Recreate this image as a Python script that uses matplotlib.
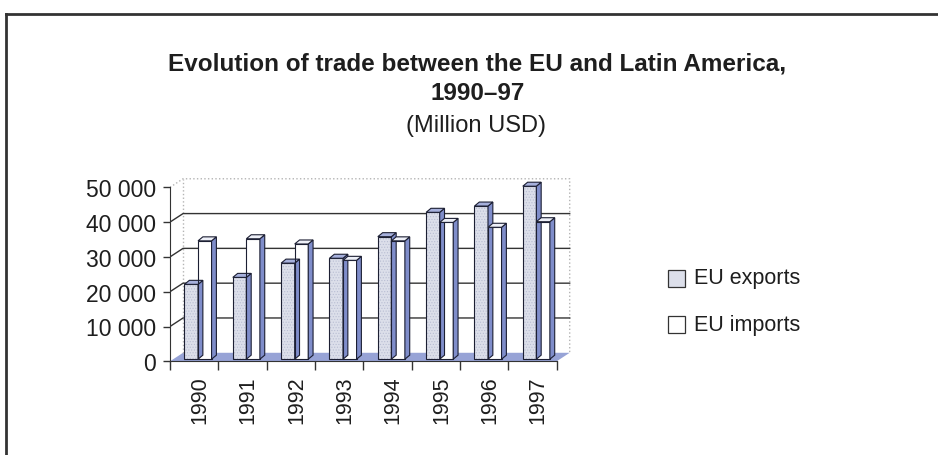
"""EU - Latin America trade, 1990-97, drawn as a pseudo-3D clustered column chart."""

import matplotlib

matplotlib.use("Agg")

import matplotlib.pyplot as plt
from matplotlib.patches import Polygon, Rectangle
from matplotlib.ticker import FixedLocator, FuncFormatter

plt.rcParams["font.family"] = ["Liberation Sans", "DejaVu Sans"]
plt.rcParams["hatch.linewidth"] = 0.5

YEARS = ["1990", "1991", "1992", "1993", "1994", "1995", "1996", "1997"]
EU_EXPORTS = [21500, 23500, 27600, 29000, 35200, 42200, 44000, 49700]
EU_IMPORTS = [34000, 34600, 33100, 28400, 34000, 39300, 37900, 39500]
Y_TICKS = [0, 10000, 20000, 30000, 40000, 50000]
SERIES_NAMES = ["EU exports", "EU imports"]

W, H = 938, 456
TEXT = "#1e1e1e"
EDGE = "#1c1f33"
SIDE = "#7f8dca"
FLOOR = "#97a3d6"
WALL_EDGE = "#b4b4b4"
EXPORT_FACE = "#dcdfea"
STIPPLE = "#b9bed3"

# wall depth and bar depth, in data units
WALL_DX, WALL_DY = 0.27, 2450
BAR_DX, BAR_DY = 0.10, 1150
BAR_W = 0.28
BASE_X, BASE_Y = 0.25 * WALL_DX, 0.25 * WALL_DY


def fx(px):
    return px / W


def fy(px):
    return 1 - px / H


fig = plt.figure(figsize=(W / 100, H / 100), dpi=100)

# outer frame (top and left edges)
fig.add_artist(plt.Line2D([fx(6), fx(6)], [fy(15), 0], color="#333333", lw=2))
fig.add_artist(plt.Line2D([fx(6), 1], [fy(15), fy(15)], color="#333333", lw=2))

fig.text(fx(477), fy(70), "Evolution of trade between the EU and Latin America,",
         ha="center", va="baseline", fontsize=17.5, fontweight="bold", color=TEXT)
fig.text(fx(478), fy(100), "1990\u201397", ha="center", va="baseline",
         fontsize=17.5, fontweight="bold", color=TEXT)
fig.text(fx(476), fy(132), "(Million USD)", ha="center", va="baseline",
         fontsize=17, color=TEXT)

ax_left, ax_bottom = 170, 362.3
x_scale, y_scale = 48.33, 3.48 / 1000
xmax, ymax = 8.35, 53000
ax = fig.add_axes([fx(ax_left), fy(ax_bottom), xmax * x_scale / W, ymax * y_scale / H])
ax.set_xlim(0, xmax)
ax.set_ylim(0, ymax)
ax.patch.set_visible(False)
for side in ("top", "right"):
    ax.spines[side].set_visible(False)
for side in ("left", "bottom"):
    ax.spines[side].set_color("#333333")
    ax.spines[side].set_zorder(6)
ax.spines["left"].set_bounds(0, 50000)
ax.spines["bottom"].set_bounds(0, len(YEARS))

n = len(YEARS)
top = Y_TICKS[-1]

# floor, left wall and back wall
ax.add_patch(Polygon([(0, 0), (n, 0), (n + WALL_DX, WALL_DY), (WALL_DX, WALL_DY)],
                     closed=True, facecolor=FLOOR, edgecolor="none", zorder=1))
ax.plot([0, WALL_DX, n + WALL_DX, n + WALL_DX],
        [top, top + WALL_DY, top + WALL_DY, WALL_DY],
        color=WALL_EDGE, lw=1, ls=":", zorder=1)
ax.plot([WALL_DX, WALL_DX], [WALL_DY, top + WALL_DY], color=WALL_EDGE, lw=1, ls=":", zorder=1)
for v in Y_TICKS[1:-1]:
    ax.plot([0, WALL_DX, n + WALL_DX], [v, v + WALL_DY, v + WALL_DY],
            color="#333333", lw=1, zorder=2)


def draw_bar(x0, value, face, top_color, hatch=None):
    y0 = BASE_Y
    y1 = BASE_Y + value
    front = Rectangle((x0, y0), BAR_W, value, facecolor=face, edgecolor=STIPPLE,
                      lw=0, hatch=hatch, zorder=3)
    ax.add_patch(front)
    ax.add_patch(Rectangle((x0, y0), BAR_W, value, fill=False, edgecolor=EDGE,
                           lw=0.8, zorder=4))
    ax.add_patch(Polygon([(x0 + BAR_W, y0), (x0 + BAR_W + BAR_DX, y0 + BAR_DY),
                          (x0 + BAR_W + BAR_DX, y1 + BAR_DY), (x0 + BAR_W, y1)],
                         closed=True, facecolor=SIDE, edgecolor=EDGE, lw=0.8, zorder=4))
    ax.add_patch(Polygon([(x0, y1), (x0 + BAR_DX, y1 + BAR_DY),
                          (x0 + BAR_W + BAR_DX, y1 + BAR_DY), (x0 + BAR_W, y1)],
                         closed=True, facecolor=top_color, edgecolor=EDGE, lw=0.8, zorder=4))


for i in range(n):
    draw_bar(i + 0.30, EU_EXPORTS[i], EXPORT_FACE, "#a6b0dc", hatch="......")
    draw_bar(i + 0.58, EU_IMPORTS[i], "white", "#eef0f8")

ax.yaxis.set_major_locator(FixedLocator(Y_TICKS))
ax.yaxis.set_major_formatter(FuncFormatter(lambda v, _: f"{int(v):,}".replace(",", " ")))
ax.tick_params(axis="y", direction="out", length=5, width=1, color="#333333",
               pad=5, labelsize=16.5, labelcolor=TEXT)

ax.xaxis.set_major_locator(FixedLocator(range(n + 1)))
ax.set_xticks([i + 0.62 for i in range(n)], minor=True)
ax.set_xticklabels([], minor=False)
ax.set_xticklabels(YEARS, minor=True, rotation=90)
ax.tick_params(axis="x", which="major", direction="out", length=6.5, width=1,
               color="#333333")
ax.tick_params(axis="x", which="minor", length=0, pad=10, labelsize=15.5,
               labelcolor=TEXT)

# legend
for k, (name, yc) in enumerate(zip(SERIES_NAMES, [279, 325])):
    sq = Rectangle((fx(668), fy(yc + 8.5)), fx(17), 17 / H, transform=fig.transFigure,
                   facecolor=EXPORT_FACE if k == 0 else "white", edgecolor="#333333",
                   lw=0.9)
    fig.add_artist(sq)
    fig.text(fx(694), fy(yc), name, ha="left", va="center", fontsize=15.5, color=TEXT)

fig.savefig("out.png", dpi=100)
